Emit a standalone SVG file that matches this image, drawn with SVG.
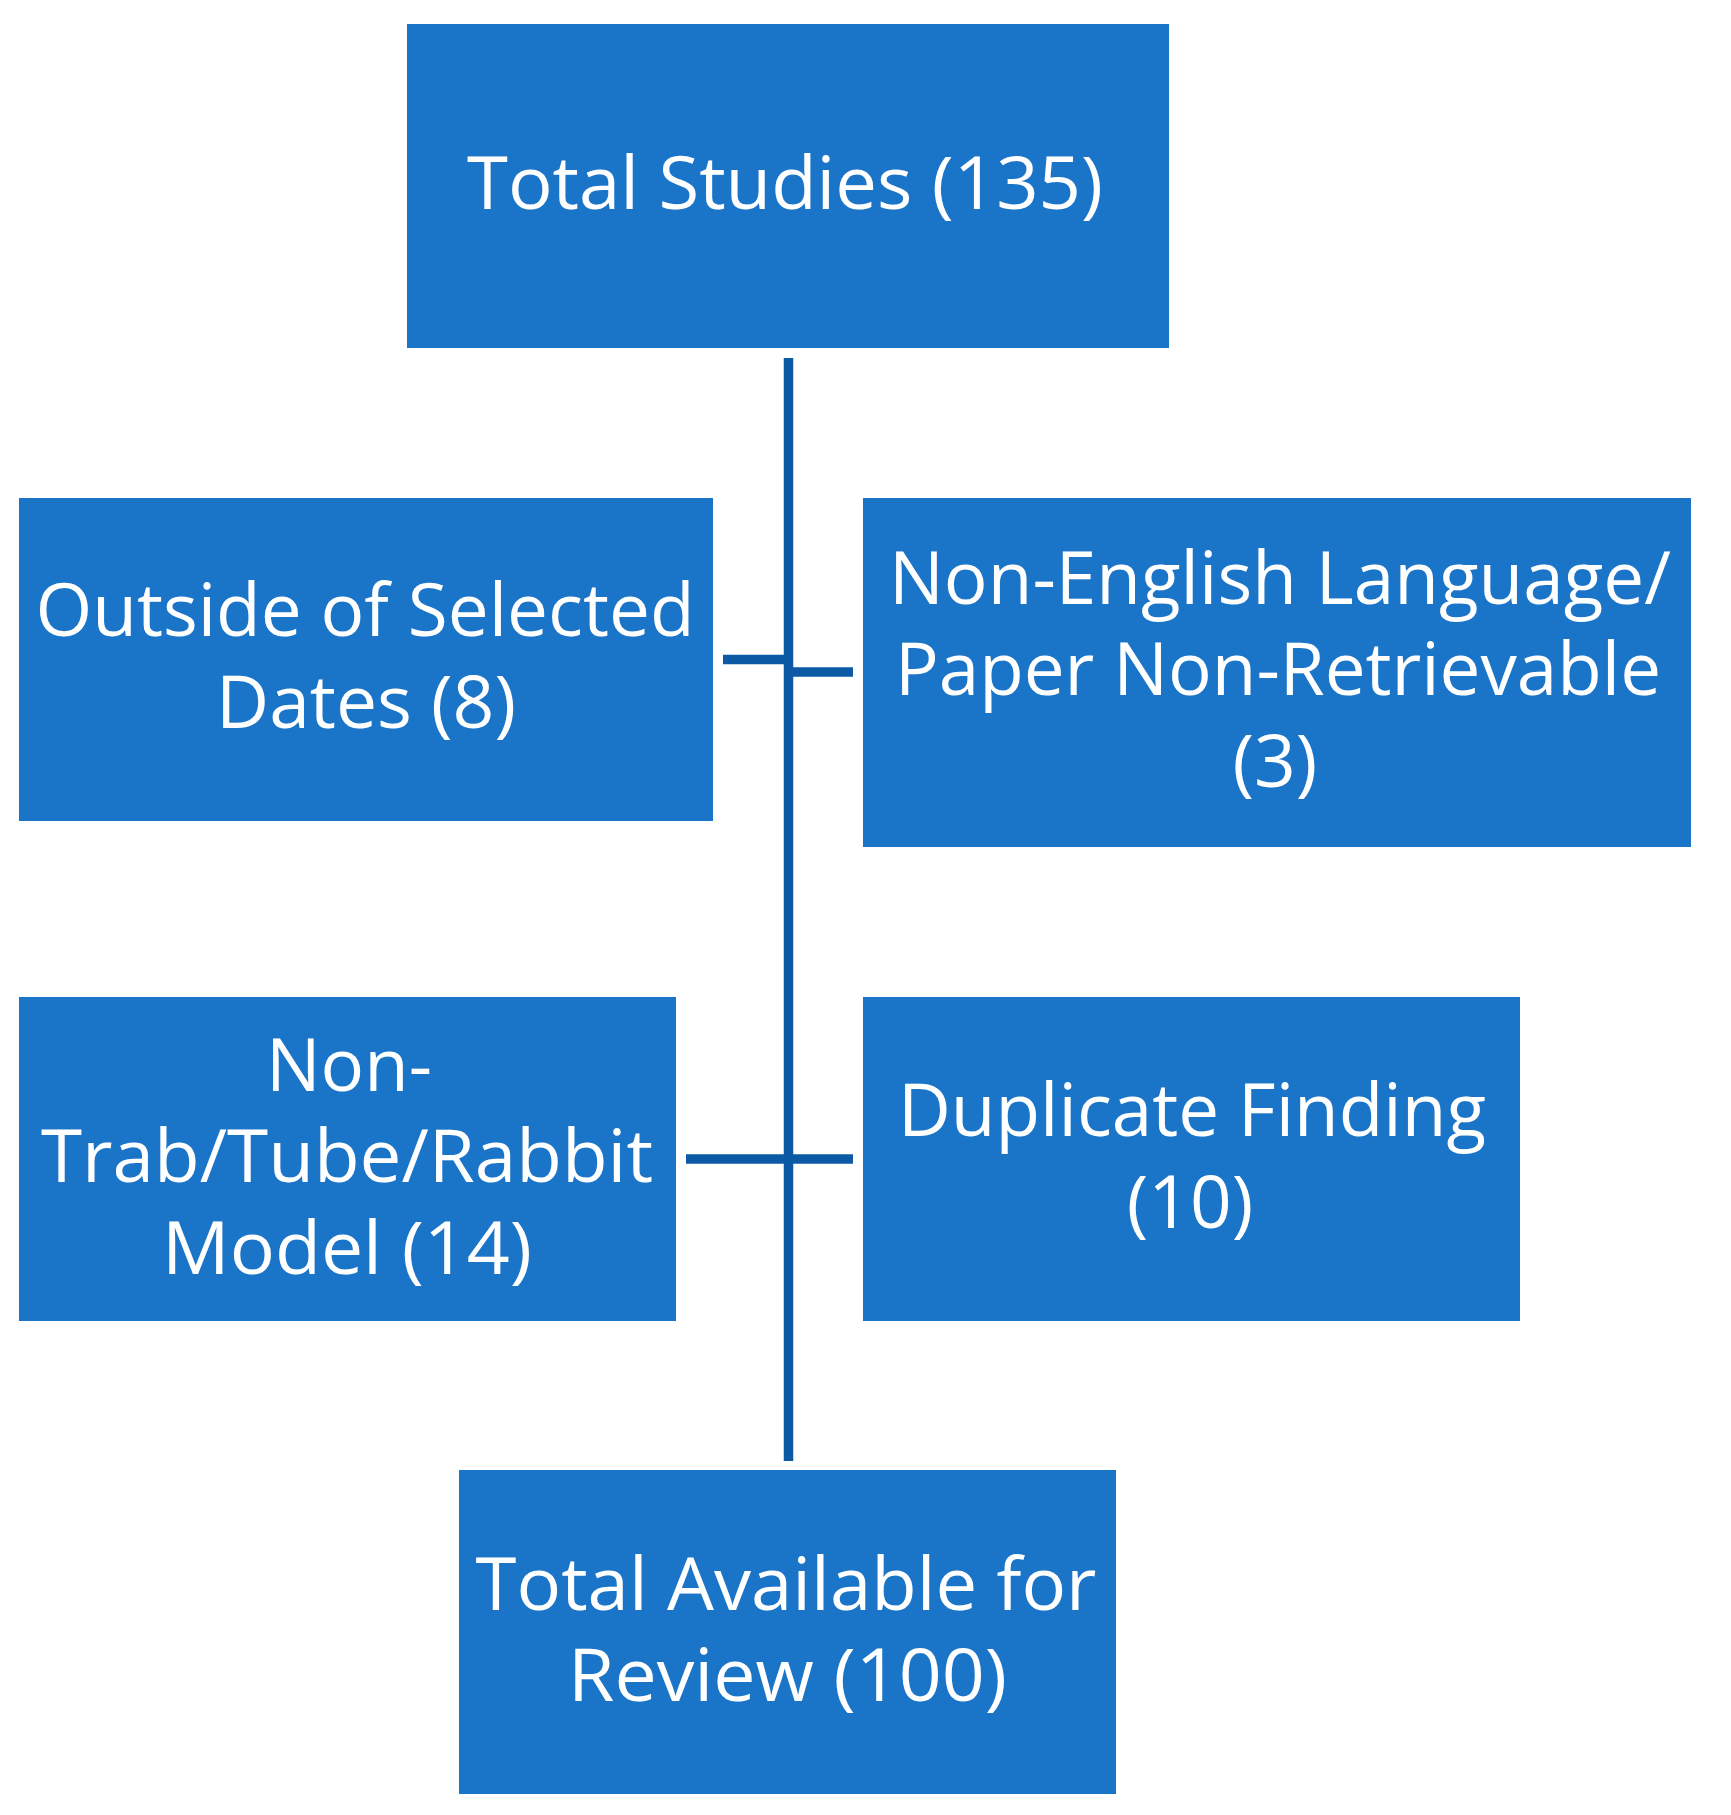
<svg xmlns="http://www.w3.org/2000/svg" width="1731" height="1815" viewBox="0 0 1731 1815">
<style>
.box{fill:#1a74c8}
.t{fill:#ffffff;font-family:"Open Sans","Noto Sans",sans-serif;font-size:73px;text-anchor:middle}
.c{stroke:#0c5aa5;stroke-width:9.5;fill:none}
</style>
<rect width="1731" height="1815" fill="#ffffff"/>
<g id="connectors">
<line class="c" x1="788.5" y1="358" x2="788.5" y2="1461"/>
<line class="c" x1="723" y1="659.5" x2="788.5" y2="659.5"/>
<line class="c" x1="788.5" y1="672" x2="853" y2="672"/>
<line class="c" x1="686" y1="1159" x2="853" y2="1159"/>
</g>
<g id="node-total">
<rect class="box" x="407" y="24" width="762" height="324"/>
<text class="t" x="785" y="209" textLength="636" lengthAdjust="spacingAndGlyphs">Total Studies (135)</text>
</g>
<g id="node-outside">
<rect class="box" x="19" y="498" width="694" height="323"/>
<text class="t" x="365" y="636" textLength="659" lengthAdjust="spacingAndGlyphs">Outside of Selected</text>
<text class="t" x="366" y="728" textLength="300" lengthAdjust="spacingAndGlyphs">Dates (8)</text>
</g>
<g id="node-nonenglish">
<rect class="box" x="863" y="498" width="828" height="349"/>
<text class="t" x="1280" y="604" textLength="782" lengthAdjust="spacingAndGlyphs">Non-English Language/</text>
<text class="t" x="1278" y="695" textLength="766" lengthAdjust="spacingAndGlyphs">Paper Non-Retrievable</text>
<text class="t" x="1275" y="787">(3)</text>
</g>
<g id="node-nontrab">
<rect class="box" x="19" y="997" width="657" height="324"/>
<text class="t" x="349" y="1091" textLength="166" lengthAdjust="spacingAndGlyphs">Non-</text>
<text class="t" x="347" y="1182" textLength="612" lengthAdjust="spacingAndGlyphs">Trab/Tube/Rabbit</text>
<text class="t" x="347" y="1274" textLength="370" lengthAdjust="spacingAndGlyphs">Model (14)</text>
</g>
<g id="node-duplicate">
<rect class="box" x="863" y="997" width="657" height="324"/>
<text class="t" x="1192" y="1136" textLength="588" lengthAdjust="spacingAndGlyphs">Duplicate Finding</text>
<text class="t" x="1190" y="1228">(10)</text>
</g>
<g id="node-available">
<rect class="box" x="459" y="1470" width="657" height="324"/>
<text class="t" x="786" y="1610" textLength="621" lengthAdjust="spacingAndGlyphs">Total Available for</text>
<text class="t" x="787.5" y="1701" textLength="439" lengthAdjust="spacingAndGlyphs">Review (100)</text>
</g>
</svg>
